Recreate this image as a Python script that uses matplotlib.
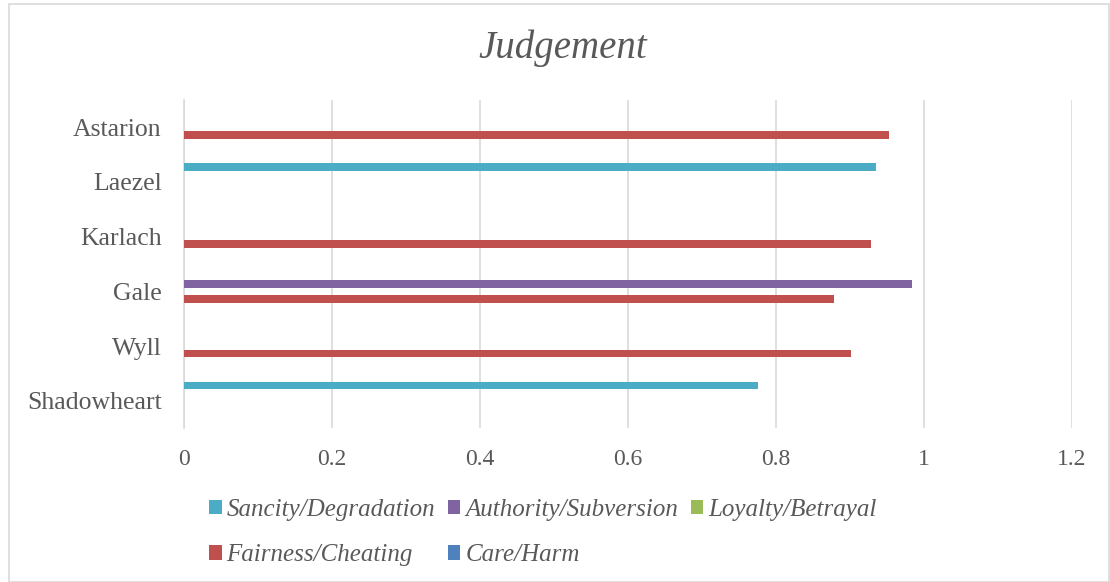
import numpy as np
import matplotlib.pyplot as plt
from matplotlib.patches import Rectangle

# data
characters = ['Shadowheart', 'Wyll', 'Gale', 'Karlach', 'Laezel', 'Astarion']
series = ['Care/Harm', 'Fairness/Cheating', 'Loyalty/Betrayal',
          'Authority/Subversion', 'Sancity/Degradation']
care = [0, 0, 0, 0, 0, 0]
fairness = [0, 0.901, 0.878, 0.928, 0, 0.953]
loyalty = [0, 0, 0, 0, 0, 0]
authority = [0, 0, 0.984, 0, 0, 0]
sanctity = [0.775, 0, 0, 0, 0.935, 0]
colors = ['#4F81BD', '#C0504D', '#9BBB59', '#8064A2', '#4BACC6']

plt.rcParams['font.family'] = ['Liberation Serif', 'DejaVu Serif']
grey = '#595959'

fig = plt.figure(figsize=(11.1, 5.82), dpi=100)
ax = fig.add_axes([184/1110, 1 - 428/582, (1072-184)/1110, 328/582])

# outer chart border
fig.patches.append(Rectangle((9/1110, 0.0), 1 - 9/1110 - 1/1110, 1 - 4/582,
                             transform=fig.transFigure, fill=False,
                             edgecolor='#D9D9D9', linewidth=1.2))

y = np.arange(len(characters))
w = 0.1375
vals = [care, fairness, loyalty, authority, sanctity]
bars = []
for i, (v, c, name) in enumerate(zip(vals, colors, series)):
    b = ax.barh(y + (i - 2) * w, v, height=w, color=c, label=name,
                edgecolor='none', zorder=3)
    bars.append(b)

ax.set_xlim(0, 1.2)
ax.set_ylim(-0.5, 5.5)
ax.set_xticks([0, 0.2, 0.4, 0.6, 0.8, 1, 1.2])
ax.set_xticklabels(['0', '0.2', '0.4', '0.6', '0.8', '1', '1.2'])
ax.set_yticks(y)
ax.set_yticklabels(characters)
ax.tick_params(axis='both', length=0, colors=grey)
ax.tick_params(axis='y', pad=16, labelsize=18.5)
ax.tick_params(axis='x', pad=15, labelsize=17)
ax.grid(axis='x', color='#D9D9D9', linewidth=1.2, zorder=0)
for s in ['top', 'right', 'bottom']:
    ax.spines[s].set_visible(False)
ax.spines['left'].set_color('#D9D9D9')
ax.spines['left'].set_linewidth(1.2)

fig.text(563/1110, 1 - 48/582, 'Judgement', ha='center', va='center',
         fontsize=28, style='italic', color=grey)

# legend in Excel order, row-wise
order = [4, 1, 3, 0, 2]
leg = fig.legend([bars[i] for i in order], [series[i] for i in order],
                 ncol=3, loc='upper left', bbox_to_anchor=(209/1110, 1 - 499/582),
                 frameon=False, borderpad=0, borderaxespad=0,
                 handlelength=0.5, handleheight=0.5,
                 handletextpad=0.2, columnspacing=0.5, labelspacing=0.93,
                 prop={'size': 18, 'style': 'italic'})
for t in leg.get_texts():
    t.set_color(grey)

plt.savefig('out.png', dpi=100)
